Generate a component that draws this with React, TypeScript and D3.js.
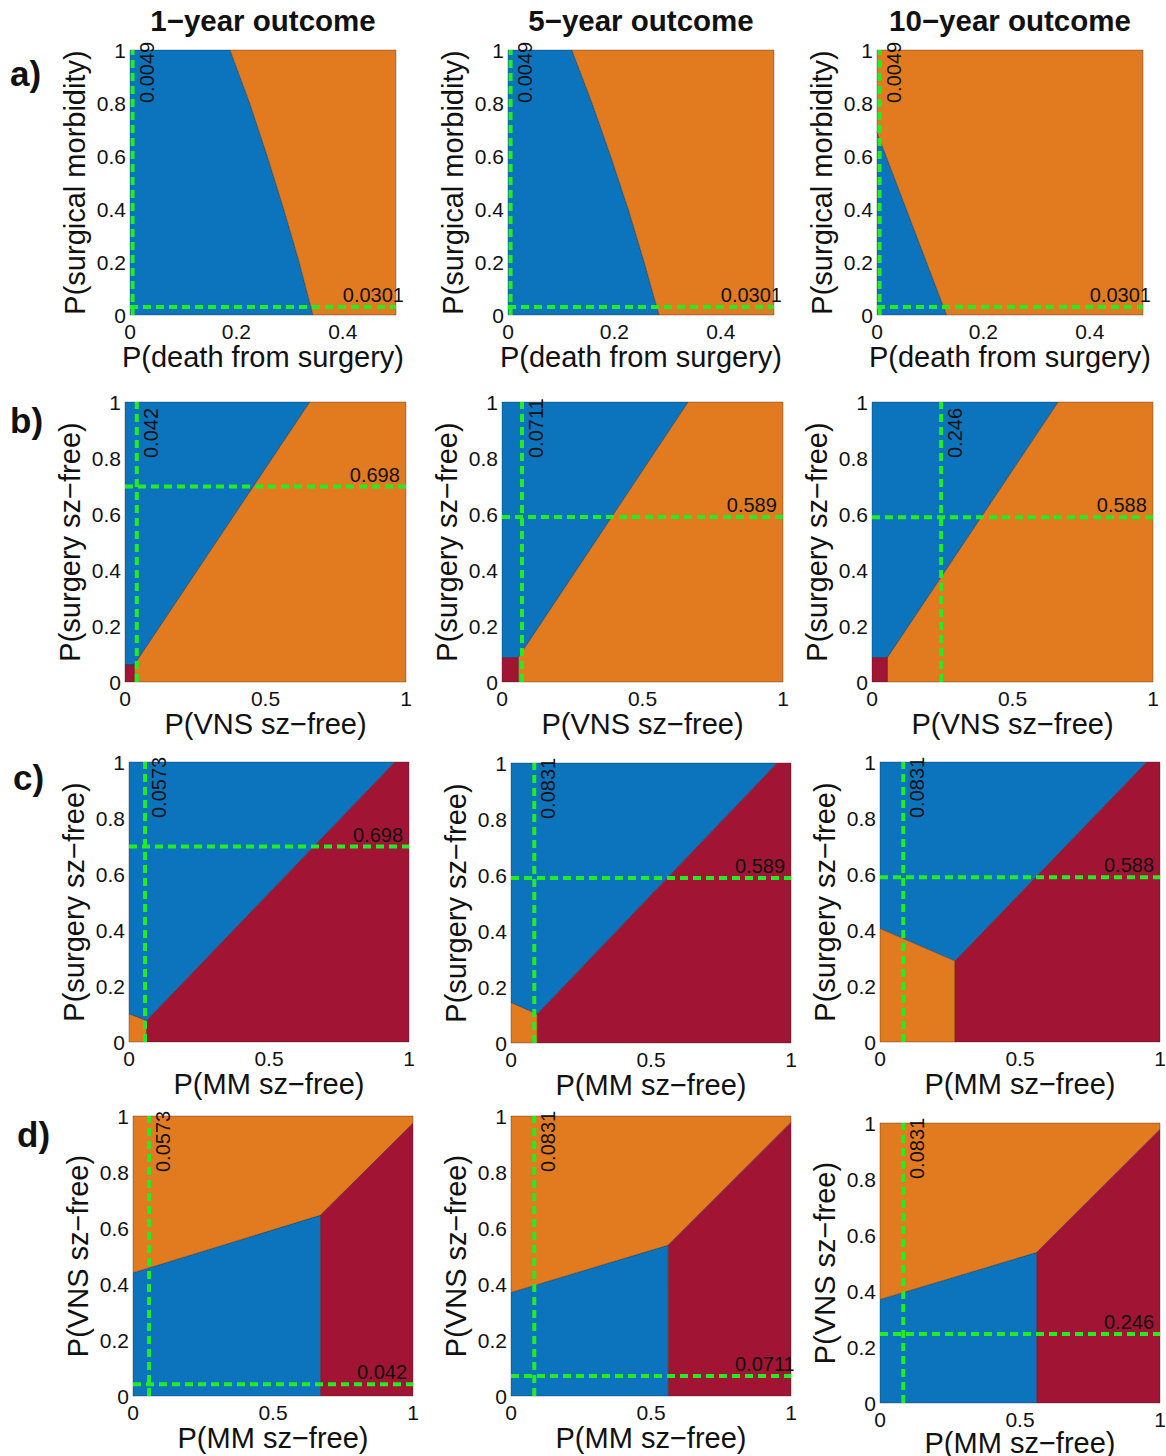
import React from "react";
import * as d3 from "d3";

type Pt = [number, number];

// ---- text ----
const columnTitles = ["1−year outcome", "5−year outcome", "10−year outcome"];
const rowLetters = ["a)", "b)", "c)", "d)"];
const xAxisLabels = ["P(death from surgery)", "P(VNS sz−free)", "P(MM sz−free)", "P(MM sz−free)"];
const yAxisLabels = ["P(surgical morbidity)", "P(surgery sz−free)", "P(surgery sz−free)", "P(VNS sz−free)"];

// ---- axes ----
const xDomainMax = [0.5, 1, 1, 1];
const xTicksRowA = [0, 0.2, 0.4];
const xTicksOther = [0, 0.5, 1];
const yTicks = [0, 0.2, 0.4, 0.6, 0.8, 1];

// ---- threshold (base-case) values ----
const verticalThresholds = [
  [0.0049, 0.0049, 0.0049],
  [0.042, 0.0711, 0.246],
  [0.0573, 0.0831, 0.0831],
  [0.0573, 0.0831, 0.0831],
];
const horizontalThresholds = [
  [0.0301, 0.0301, 0.0301],
  [0.698, 0.589, 0.588],
  [0.698, 0.589, 0.588],
  [0.042, 0.0711, 0.246],
];

// ---- region polygons (data coords) ----
// row a
const a1Blue: Pt[] = [[0, 1], [0.188, 1], [0.225, 0.8], [0.258, 0.6], [0.289, 0.4], [0.318, 0.2], [0.344, 0], [0, 0]];
const a1Orange: Pt[] = [[0.188, 1], [0.5, 1], [0.5, 0], [0.344, 0], [0.318, 0.2], [0.289, 0.4], [0.258, 0.6], [0.225, 0.8]];
const a2Blue: Pt[] = [[0, 1], [0.12, 1], [0.158, 0.8], [0.193, 0.6], [0.226, 0.4], [0.256, 0.2], [0.284, 0], [0, 0]];
const a2Orange: Pt[] = [[0.12, 1], [0.5, 1], [0.5, 0], [0.284, 0], [0.256, 0.2], [0.226, 0.4], [0.193, 0.6], [0.158, 0.8]];
const a3Blue: Pt[] = [[0, 0], [0, 0.69], [0.131, 0]];
const a3Orange: Pt[] = [[0, 0.69], [0, 1], [0.5, 1], [0.5, 0], [0.131, 0]];
// row b
const b1Red: Pt[] = [[0, 0], [0, 0.061], [0.033, 0.061], [0.033, 0]];
const b1Blue: Pt[] = [[0, 0.061], [0, 1], [0.658, 1], [0.033, 0.061]];
const b1Orange: Pt[] = [[0.033, 0], [0.033, 0.061], [0.658, 1], [1, 1], [1, 0]];
const b2Red: Pt[] = [[0, 0], [0, 0.087], [0.058, 0.087], [0.058, 0]];
const b2Blue: Pt[] = [[0, 0.087], [0, 1], [0.663, 1], [0.058, 0.087]];
const b2Orange: Pt[] = [[0.058, 0], [0.058, 0.087], [0.663, 1], [1, 1], [1, 0]];
const b3Red: Pt[] = [[0, 0], [0, 0.087], [0.055, 0.087], [0.055, 0]];
const b3Blue: Pt[] = [[0, 0.087], [0, 1], [0.663, 1], [0.055, 0.087]];
const b3Orange: Pt[] = [[0.055, 0], [0.055, 0.087], [0.663, 1], [1, 1], [1, 0]];
// row c
const c1Orange: Pt[] = [[0, 0], [0, 0.1], [0.063, 0.076], [0.063, 0]];
const c1Blue: Pt[] = [[0, 0.1], [0, 1], [0.95, 1], [0.063, 0.076]];
const c1Red: Pt[] = [[0.063, 0], [0.063, 0.076], [0.95, 1], [1, 1], [1, 0]];
const c2Orange: Pt[] = [[0, 0], [0, 0.144], [0.094, 0.103], [0.094, 0]];
const c2Blue: Pt[] = [[0, 0.144], [0, 1], [0.951, 1], [0.094, 0.103]];
const c2Red: Pt[] = [[0.094, 0], [0.094, 0.103], [0.951, 1], [1, 1], [1, 0]];
const c3Orange: Pt[] = [[0, 0], [0, 0.405], [0.268, 0.289], [0.268, 0]];
const c3Blue: Pt[] = [[0, 0.405], [0, 1], [0.953, 1], [0.268, 0.289]];
const c3Red: Pt[] = [[0.268, 0], [0.268, 0.289], [0.953, 1], [1, 1], [1, 0]];
// row d
const d1Blue: Pt[] = [[0, 0], [0, 0.44], [0.67, 0.646], [0.67, 0]];
const d1Orange: Pt[] = [[0, 0.44], [0, 1], [1, 1], [1, 0.974], [0.67, 0.646]];
const d1Red: Pt[] = [[0.67, 0], [0.67, 0.646], [1, 0.974], [1, 0]];
const d2Blue: Pt[] = [[0, 0], [0, 0.37], [0.562, 0.539], [0.562, 0]];
const d2Orange: Pt[] = [[0, 0.37], [0, 1], [1, 1], [1, 0.977], [0.562, 0.539]];
const d2Red: Pt[] = [[0.562, 0], [0.562, 0.539], [1, 0.977], [1, 0]];
const d3Blue: Pt[] = [[0, 0], [0, 0.37], [0.56, 0.538], [0.56, 0]];
const d3Orange: Pt[] = [[0, 0.37], [0, 1], [1, 1], [1, 0.977], [0.56, 0.538]];
const d3Red: Pt[] = [[0.56, 0], [0.56, 0.538], [1, 0.977], [1, 0]];

const BLUE = "#0c74bd";
const ORANGE = "#e27b1f";
const RED = "#a21433";
const GREEN = "#22ec22";

const panelRegions: { color: string; pts: Pt[] }[][][] = [
  [
    [{ color: BLUE, pts: a1Blue }, { color: ORANGE, pts: a1Orange }],
    [{ color: BLUE, pts: a2Blue }, { color: ORANGE, pts: a2Orange }],
    [{ color: BLUE, pts: a3Blue }, { color: ORANGE, pts: a3Orange }],
  ],
  [
    [{ color: BLUE, pts: b1Blue }, { color: ORANGE, pts: b1Orange }, { color: RED, pts: b1Red }],
    [{ color: BLUE, pts: b2Blue }, { color: ORANGE, pts: b2Orange }, { color: RED, pts: b2Red }],
    [{ color: BLUE, pts: b3Blue }, { color: ORANGE, pts: b3Orange }, { color: RED, pts: b3Red }],
  ],
  [
    [{ color: BLUE, pts: c1Blue }, { color: ORANGE, pts: c1Orange }, { color: RED, pts: c1Red }],
    [{ color: BLUE, pts: c2Blue }, { color: ORANGE, pts: c2Orange }, { color: RED, pts: c2Red }],
    [{ color: BLUE, pts: c3Blue }, { color: ORANGE, pts: c3Orange }, { color: RED, pts: c3Red }],
  ],
  [
    [{ color: BLUE, pts: d1Blue }, { color: ORANGE, pts: d1Orange }, { color: RED, pts: d1Red }],
    [{ color: BLUE, pts: d2Blue }, { color: ORANGE, pts: d2Orange }, { color: RED, pts: d2Red }],
    [{ color: BLUE, pts: d3Blue }, { color: ORANGE, pts: d3Orange }, { color: RED, pts: d3Red }],
  ],
];

// ---- layout ----
const panelLeft = [
  [130, 508, 877],
  [125, 502, 872],
  [129, 511, 880],
  [133, 511, 880],
];
const panelTop = [
  [50, 50, 50],
  [402, 402, 402],
  [762, 763, 762],
  [1116, 1116, 1123],
];
const panelW = [266, 281, 280, 280];
const panelH = [265, 280, 280, 280];
const letterPos: [number, number][] = [[10, 86], [10, 433], [13, 790], [17, 1147]];

const FONT = "'Liberation Sans', Arial, Helvetica, sans-serif";

function Panel({ row, col }: { row: number; col: number }) {
  const x0 = panelLeft[row][col];
  const y0 = panelTop[row][col];
  const w = panelW[row];
  const h = panelH[row];
  const xMax = xDomainMax[row];
  const xs = d3.scaleLinear().domain([0, xMax]).range([x0, x0 + w]);
  const ys = d3.scaleLinear().domain([0, 1]).range([y0 + h, y0]);
  const line = d3.line<Pt>().x((d) => xs(d[0])).y((d) => ys(d[1]));
  const xTicks = row === 0 ? xTicksRowA : xTicksOther;
  const vt = verticalThresholds[row][col];
  const ht = horizontalThresholds[row][col];
  const fmt = (v: number) => String(v);
  const xLabelY = Math.min(y0 + h + 52, 1453);

  return (
    <g>
      {panelRegions[row][col].map((r, i) => (
        <path
          key={i}
          d={line(r.pts) + "Z"}
          fill={r.color}
          stroke="rgba(35,35,35,0.45)"
          strokeWidth={0.8}
          strokeLinejoin="round"
        />
      ))}
      {/* threshold lines */}
      <line
        x1={xs(vt)} x2={xs(vt)} y1={ys(0)} y2={ys(1)}
        stroke={GREEN} strokeWidth={4} strokeDasharray="8,5"
      />
      <line
        x1={xs(0)} x2={xs(xMax)} y1={ys(ht)} y2={ys(ht)}
        stroke={GREEN} strokeWidth={4} strokeDasharray="8,5"
      />
      <text
        x={xs(vt) + 21}
        y={ys(0.8)}
        transform={`rotate(-90, ${xs(vt) + 21}, ${ys(0.8)})`}
        fontFamily={FONT} fontSize={20} fill="#111"
      >
        {fmt(vt)}
      </text>
      <text x={xs(0.8 * xMax)} y={ys(ht) - 5} fontFamily={FONT} fontSize={20} fill="#111">
        {fmt(ht)}
      </text>
      {/* y ticks */}
      {yTicks.map((t) => (
        <text
          key={"y" + t}
          x={x0 - 4}
          y={ys(t)}
          textAnchor="end"
          dominantBaseline="central"
          fontFamily={FONT}
          fontSize={21}
          fill="#111"
        >
          {String(t)}
        </text>
      ))}
      {/* x ticks */}
      {xTicks.map((t) => (
        <text
          key={"x" + t}
          x={xs(t)}
          y={y0 + h + 16}
          textAnchor="middle"
          dominantBaseline="central"
          fontFamily={FONT}
          fontSize={21}
          fill="#111"
        >
          {String(t)}
        </text>
      ))}
      {/* axis labels */}
      <text
        x={x0 + w / 2}
        y={xLabelY}
        textAnchor="middle"
        fontFamily={FONT}
        fontSize={29}
        fill="#111"
      >
        {xAxisLabels[row]}
      </text>
      <text
        x={x0 - 45}
        y={y0 + h / 2}
        transform={`rotate(-90, ${x0 - 45}, ${y0 + h / 2})`}
        textAnchor="middle"
        fontFamily={FONT}
        fontSize={29}
        fill="#111"
      >
        {yAxisLabels[row]}
      </text>
      {row === 0 && (
        <text
          x={x0 + w / 2}
          y={31}
          textAnchor="middle"
          fontFamily={FONT}
          fontWeight="bold"
          fontSize={29.5}
          fill="#111"
        >
          {columnTitles[col]}
        </text>
      )}
    </g>
  );
}

export default function App() {
  return (
    <svg
      width={1166}
      height={1456}
      style={{ position: "absolute", left: 0, top: 0, background: "#fff" }}
    >
      <rect x={0} y={0} width={1166} height={1456} fill="#fff" />
      {[0, 1, 2, 3].map((r) =>
        [0, 1, 2].map((c) => <Panel key={r + "-" + c} row={r} col={c} />)
      )}
      {rowLetters.map((l, i) => (
        <text
          key={l}
          x={letterPos[i][0]}
          y={letterPos[i][1]}
          fontFamily={FONT}
          fontWeight="bold"
          fontSize={35}
          fill="#111"
        >
          {l}
        </text>
      ))}
    </svg>
  );
}
